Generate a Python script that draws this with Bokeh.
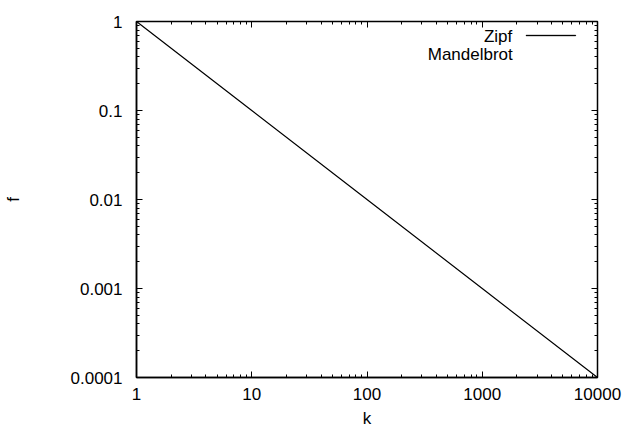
from bokeh.plotting import figure
from bokeh.models import LogAxis, Label, BoxAnnotation, FixedTicker, Range1d
from bokeh.embed import file_html
from bokeh.resources import INLINE

# data
k = [1, 10, 100, 1000, 10000]
zipf_f = [1, 0.1, 0.01, 0.001, 0.0001]
x_ticks = [1, 10, 100, 1000, 10000]
y_ticks = [0.0001, 0.001, 0.01, 0.1, 1]
series_names = ["Zipf", "Mandelbrot"]

FONT = "Liberation Sans"
FS = "17px"

p = figure(width=626, height=430, x_axis_type="log", y_axis_type="log",
           x_range=Range1d(1, 10000), y_range=Range1d(0.0001, 1),
           output_backend="svg", toolbar_location=None,
           min_border_left=132, min_border_right=29, min_border_top=21, min_border_bottom=53)
p.grid.visible = False
p.outline_line_color = "black"
p.outline_line_width = 1.5
p.background_fill_color = "white"
p.border_fill_color = "white"

zipf = p.line(k, zipf_f, line_color="black", line_width=1.2)

for ax in (p.xaxis[0], p.yaxis[0]):
    ax.major_tick_in = 6
    ax.major_tick_out = 0
    ax.minor_tick_in = 3
    ax.minor_tick_out = 0
    ax.axis_line_color = "black"
    ax.axis_line_width = 1.5
    ax.major_label_text_font = FONT
    ax.major_label_text_font_size = FS
    ax.major_label_text_color = "black"
    ax.axis_label_text_font = FONT
    ax.axis_label_text_font_size = FS
    ax.axis_label_text_font_style = "normal"
    ax.axis_label_text_color = "black"

p.xaxis[0].ticker = FixedTicker(ticks=x_ticks, minor_ticks=[m * d for d in [1, 10, 100, 1000] for m in range(2, 10)])
p.yaxis[0].ticker = FixedTicker(ticks=y_ticks, minor_ticks=[m * d for d in [0.0001, 0.001, 0.01, 0.1] for m in range(2, 10)])
p.xaxis[0].major_label_overrides = {t: str(t) for t in x_ticks}
p.yaxis[0].major_label_overrides = {t: ("%g" % t if t >= 0.001 else "0.0001") for t in y_ticks}
p.xaxis[0].axis_label = "k"
p.yaxis[0].axis_label = "f"
p.xaxis[0].major_label_standoff = 10
p.xaxis[0].axis_label_standoff = 6
p.yaxis[0].major_label_standoff = 14
p.yaxis[0].axis_label_standoff = 45

# mirrored ticks
top = LogAxis(ticker=p.xaxis[0].ticker, major_tick_in=6, major_tick_out=0,
              minor_tick_in=3, minor_tick_out=0, major_label_text_font_size="1px",
              major_label_text_color=None, major_label_standoff=0, axis_line_color="black")
right = LogAxis(ticker=p.yaxis[0].ticker, major_tick_in=6, major_tick_out=0,
                minor_tick_in=3, minor_tick_out=0, major_label_text_font_size="1px",
                major_label_text_color=None, major_label_standoff=0, axis_line_color="black")
p.add_layout(top, "above")
p.add_layout(right, "right")

# gnuplot-style key (text right-aligned, sample at right), placed in data space
p.add_layout(Label(x=1820, y=0.68, text=series_names[0], text_color="black",
                   text_align="right", text_baseline="middle", text_font=FONT, text_font_size=FS))
p.add_layout(Label(x=1840, y=0.425, text=series_names[1], text_color="black",
                   text_align="right", text_baseline="middle", text_font=FONT, text_font_size=FS))
p.add_layout(BoxAnnotation(left=2400, right=6470, top=0.699, bottom=0.693,
                           fill_color="black", fill_alpha=1, line_color="black", line_alpha=1, line_width=1))

open("out.html", "w").write(file_html(p, INLINE))
